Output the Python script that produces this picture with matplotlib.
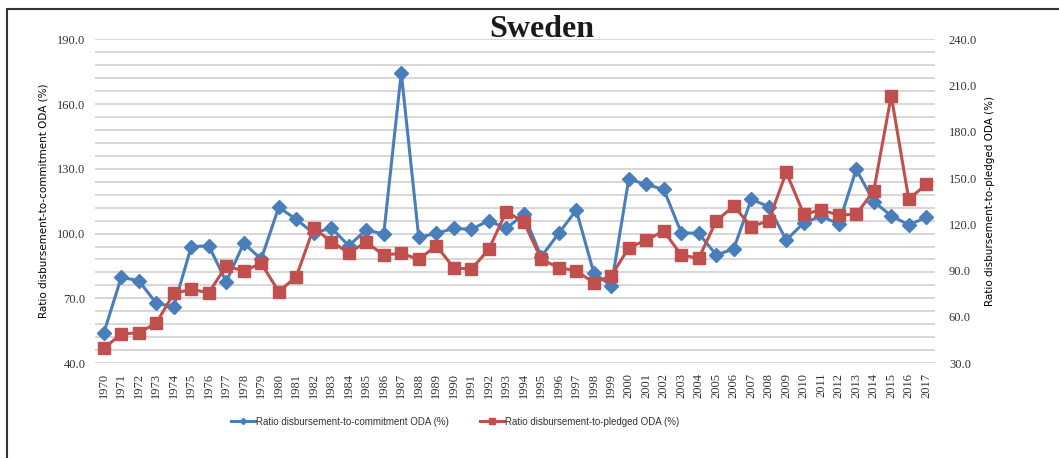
import matplotlib.pyplot as plt
from matplotlib.patches import Rectangle
import numpy as np

# data
years = list(range(1970, 2018))
commitment = [53.8, 79.7, 78.2, 67.7, 66.1, 93.9, 94.4, 77.7, 95.5, 88.2,
              112.2, 106.6, 100.1, 102.7, 94.4, 101.7, 99.8, 174.6, 98.3, 100.1,
              102.4, 102.0, 106.0, 102.4, 108.9, 89.3, 100.1, 110.9, 81.9, 75.7,
              125.3, 122.8, 120.5, 100.4, 100.1, 90.1, 92.9, 115.9, 112.5, 97.0,
              105.0, 108.1, 104.4, 129.8, 114.8, 108.3, 104.0, 107.5]
pledged = [39.5, 48.8, 49.7, 55.8, 75.2, 77.8, 75.6, 93.0, 89.7, 94.7,
           76.3, 86.0, 117.8, 108.7, 101.6, 108.4, 100.1, 101.2, 97.3, 106.1,
           91.9, 90.8, 103.8, 128.2, 121.7, 97.3, 91.9, 89.9, 82.1, 86.5,
           104.8, 109.8, 115.7, 100.1, 98.0, 122.2, 131.9, 118.5, 122.4, 153.8,
           126.7, 129.3, 126.1, 126.5, 141.8, 203.5, 136.3, 146.0]
left_ticks = [40, 70, 100, 130, 160, 190]
right_ticks = [30, 60, 90, 120, 150, 180, 210, 240]

blue = '#4A7EBB'
red = '#C0504D'
serif = 'Liberation Serif'

fig = plt.figure(figsize=(10.59, 4.58), dpi=100)
ax = fig.add_axes([0.0897, 0.2074, 0.7932, 0.7064])
ax2 = ax.twinx()

x = np.arange(len(years))

# gridlines every 6 units of the left axis
for g in np.arange(40, 191, 6):
    ax.axhline(g, color='#D4D4D4', lw=1.3, zorder=0)

l1, = ax.plot(x, commitment, color=blue, lw=2.2, marker='D', ms=7,
              label='Ratio disbursement-to-commitment ODA (%)', zorder=3)
l2, = ax2.plot(x, pledged, color=red, lw=2.2, marker='s', ms=8.5,
               label='Ratio disbursement-to-pledged ODA (%)', zorder=3)

ax.set_xlim(-0.5, len(years) - 0.5)
ax.set_ylim(40, 190)
ax2.set_ylim(30, 240)
ax.set_yticks(left_ticks)
ax.set_yticklabels([f'{v:.1f}' for v in left_ticks], fontfamily=serif, fontsize=9, color='#333333')
ax2.set_yticks(right_ticks)
ax2.set_yticklabels([f'{v:.1f}' for v in right_ticks], fontfamily=serif, fontsize=9, color='#333333')
ax.set_xticks(x)
ax.set_xticklabels([str(y) for y in years], rotation=90, fontfamily=serif, fontsize=9, color='#333333')
ax.tick_params(length=0, pad=7)
ax2.tick_params(length=0, pad=10)

for a in (ax, ax2):
    for s in a.spines.values():
        s.set_visible(False)

ax.set_ylabel('Ratio disbursement-to-commitment ODA (%)', fontfamily='DejaVu Sans', fontsize=7.5, labelpad=6)
ax2.set_ylabel('Ratio disbursement-to-pledged ODA (%)', fontfamily='DejaVu Sans', fontsize=7.5, labelpad=6)

fig.text(0.512, 0.936, 'Sweden', ha='center', va='center', fontfamily=serif,
         fontsize=23, fontweight='bold', color='#1a1a1a')

fig.legend(handles=[l1, l2], loc='center', bbox_to_anchor=(0.43, 0.079), ncol=2,
           frameon=False, columnspacing=3.2, handlelength=2.4, handletextpad=0.15,
           markerscale=0.45, prop={'family': 'Liberation Sans', 'size': 7},
           labelcolor='#333333')

# outer chart frame
fig.patches.append(Rectangle((7 / 1059, -0.1), 1.2, 1 - 9.5 / 458 + 0.1, transform=fig.transFigure,
                             fill=False, edgecolor='#333333', lw=1.5))

fig.savefig('out.png', dpi=100)
